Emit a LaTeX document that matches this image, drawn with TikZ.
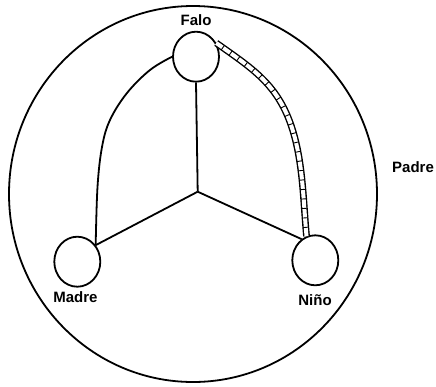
\documentclass[tikz,border=0pt]{standalone}
\usepackage{fontspec}
\setmainfont{Liberation Sans}
\usetikzlibrary{shapes.geometric,decorations.markings}
\tikzset{
  lw/.style={line width=1.8pt},
  person/.style={draw, ellipse, line width=1.8pt, minimum width=46pt, minimum height=50pt, inner sep=0pt},
  lbl/.style={font=\bfseries\fontsize{15}{18}\selectfont, inner sep=0pt},
  bandline/.style={line width=1.4pt, double=white, double distance=4pt},
  rungs/.style={decorate, decoration={markings, mark=between positions 8pt and -6pt step 9.5pt with {\draw[line width=0.9pt] (0,-2.6pt) -- (0,2.6pt);}}}
}
\begin{document}
\begin{tikzpicture}[x=1pt, y=-1pt]
\useasboundingbox (0,0) rectangle (436,386);
\fill[white] (0,0) rectangle (436,386);
% outer circle (Padre)
\node[draw, ellipse, lw, minimum width=368pt, minimum height=376pt, inner sep=0pt] (padrec) at (193,194) {};
% persons
\node[person] (falo) at (196,56.7) {};
\node[person] (madre) at (77.3,261.7) {};
\node[person] (nino) at (315.3,260.3) {};
\coordinate (c) at (197.7,191.7);
\coordinate (bandmid) at (291,125);
% labels
\node[lbl] (lfalo) at (196,20) {Falo};
\node[lbl] (lmadre) at (75.5,297.5) {Madre};
\node[lbl] (lnino) at (315,300) {Niño};
\node[lbl] (lpadre) at (413,166.7) {Padre};
% spokes
\draw[lw] (c) -- (falo.south);
\draw[lw] (c) -- (madre.42);
\draw[lw] (c) -- (nino.123);
% left arch
\draw[lw] plot[smooth, tension=0.6] coordinates {(falo.west) (150,70) (127,93) (110,120) (102,147) (97.5,187) (madre.42)};
% right hatched band
\draw[bandline] (falo.34) .. controls (251.5,68) and (276.6,83.4) .. (bandmid)
  .. controls (303,160) and (303,198) .. (nino.110);
\path[rungs] (falo.34) .. controls (251.5,68) and (276.6,83.4) .. (bandmid)
  .. controls (303,160) and (303,198) .. (nino.110);
\end{tikzpicture}
\end{document}
